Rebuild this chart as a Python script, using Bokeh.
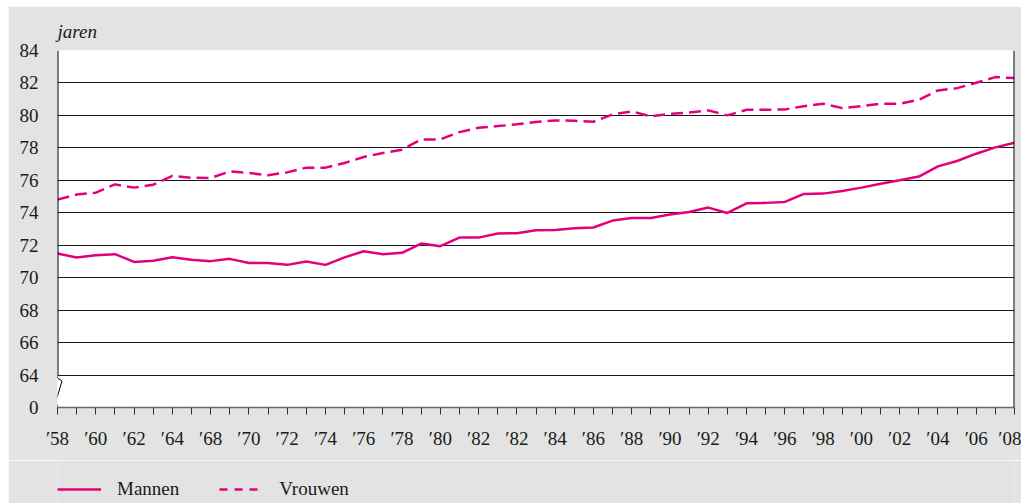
from bokeh.plotting import figure
from bokeh.models import FixedTicker, Grid, Arrow, Legend, LegendItem, Spacer
from bokeh.layouts import column, row
from bokeh.embed import file_html
from bokeh.resources import INLINE

# ---------------- data ----------------
years = list(range(1958, 2009))
mannen = [71.49, 71.24, 71.38, 71.45, 70.97, 71.04, 71.26, 71.10, 71.02, 71.16,
          70.91, 70.91, 70.79, 71.00, 70.79, 71.25, 71.63, 71.45, 71.53, 72.10,
          71.94, 72.47, 72.47, 72.72, 72.74, 72.92, 72.94, 73.05, 73.09, 73.52,
          73.68, 73.68, 73.89, 74.05, 74.32, 73.99, 74.58, 74.61, 74.67, 75.16,
          75.18, 75.34, 75.55, 75.79, 76.00, 76.23, 76.86, 77.19, 77.64, 78.03,
          78.32]
vrouwen = [74.81, 75.12, 75.24, 75.75, 75.55, 75.73, 76.27, 76.16, 76.14, 76.55,
           76.45, 76.31, 76.49, 76.78, 76.78, 77.07, 77.44, 77.68, 77.89, 78.52,
           78.52, 78.97, 79.24, 79.34, 79.45, 79.59, 79.69, 79.67, 79.61, 80.06,
           80.25, 79.94, 80.09, 80.18, 80.31, 80.00, 80.35, 80.35, 80.37, 80.57,
           80.72, 80.45, 80.57, 80.72, 80.72, 80.96, 81.54, 81.68, 82.01, 82.36,
           82.30]
x_tick_labels = ["\u203258", "\u203260", "\u203262", "\u203264", "\u203268", "\u203270",
                 "\u203272", "\u203274", "\u203276", "\u203278", "\u203280", "\u203282",
                 "\u203282", "\u203284", "\u203286", "\u203288", "\u203290", "\u203292",
                 "\u203294", "\u203296", "\u203298", "\u203200", "\u203202", "\u203204",
                 "\u203206", "\u203208"]
y_ticks = [62, 64, 66, 68, 70, 72, 74, 76, 78, 80, 82, 84]
y_tick_labels = ["0", "64", "66", "68", "70", "72", "74", "76", "78", "80", "82", "84"]
series_names = ["Mannen", "Vrouwen"]
y_unit = "jaren"

# ---------------- layout ----------------
PAD_L, PAD_T = 8, 6
W = 1021 - PAD_L
H1 = 454
H2 = 503 - PAD_T - H1
BL, BR, BT, BB = 49, 7, 44, 53
FW = W - BL - BR
FH = H1 - BT - BB
X0, X1 = years[0], years[-1]
Y0, Y1 = y_ticks[0], y_ticks[-1]
PXY = FW / (X1 - X0)      # pixels per year
PYU = FH / (Y1 - Y0)      # pixels per unit

def dx(px):
    return px / PXY

def dy(px):
    return px / PYU

FONT = "Liberation Serif"
FS = "19px"
MAGENTA = "#e4007c"
TXT = "#1a1a1a"
GREY = "#e2e3e2"

p = figure(width=W, height=H1, output_backend="svg", toolbar_location=None,
           x_range=(X0, X1), y_range=(Y0, Y1),
           min_border_left=BL, min_border_right=BR,
           min_border_top=BT, min_border_bottom=BB)
p.border_fill_color = GREY
p.background_fill_color = "white"
p.outline_line_color = None

# unit label as title
p.title.text = y_unit
p.title.text_font = FONT
p.title.text_font_size = FS
p.title.text_font_style = "italic"
p.title.text_color = TXT
p.title.align = "left"
p.title.standoff = 18

# grid
p.xgrid.visible = False
p.ygrid.ticker = FixedTicker(ticks=y_ticks[1:-1])
p.ygrid.grid_line_color = "#1a1a1a"
p.ygrid.grid_line_width = 1
top_grid = Grid(dimension=1, ticker=FixedTicker(ticks=[Y1]),
                grid_line_color="#7a7a7a", grid_line_width=2)
p.add_layout(top_grid)

# y axis
p.yaxis.ticker = FixedTicker(ticks=y_ticks)
p.yaxis.major_label_overrides = {t: l for t, l in zip(y_ticks, y_tick_labels)}
p.yaxis.axis_line_color = None
p.yaxis.major_tick_line_color = None
p.yaxis.minor_tick_line_color = None
p.yaxis.major_label_standoff = 13
p.yaxis.major_label_text_font = FONT
p.yaxis.major_label_text_font_size = FS
p.yaxis.major_label_text_color = TXT

# x axis
p.xaxis.ticker = FixedTicker(ticks=years)
even_years = years[::2]
overrides = {y: "" for y in years}
overrides.update({y: l for y, l in zip(even_years, x_tick_labels)})
p.xaxis.major_label_overrides = overrides
p.xaxis.axis_line_color = "#6b6b6b"
p.xaxis.axis_line_width = 1.5
p.xaxis.major_tick_line_color = "#333333"
p.xaxis.major_tick_out = 7
p.xaxis.major_tick_in = 0
p.xaxis.minor_tick_line_color = None
p.xaxis.major_label_standoff = 13
p.xaxis.major_label_text_font = FONT
p.xaxis.major_label_text_font_size = FS
p.xaxis.major_label_text_color = TXT

# series
r_m = p.line(years, mannen, line_color=MAGENTA, line_width=2.5)
r_v = p.line(years, vrouwen, line_color=MAGENTA, line_width=2.5, line_dash="12 6")

# left axis line with break, right border
def seg(xa, ya, xb, yb, color="black", width=1.0):
    p.add_layout(Arrow(start=None, end=None, x_start=xa, y_start=ya, x_end=xb, y_end=yb,
                       line_color=color, line_width=width))

seg(X0, Y1, X0, Y0 + 2, width=2)
seg(X0, Y0 + 2, X0, Y0 + 2 - dy(3))
seg(X0, Y0 + 2 - dy(3), X0 + dx(4.5), Y0 + 2 - dy(6))
seg(X0 + dx(4.5), Y0 + 2 - dy(6), X0 - dx(2), Y0 + dy(5))
seg(X0 - dx(2), Y0 + dy(5), X0, Y0, width=2)
seg(X1, Y1, X1, Y0, width=2)

# legend strip (its frame aligns with the chart's frame); the series are drawn
# there outside its visible range so that only their legend swatches show
q = figure(width=W, height=H2, output_backend="svg", toolbar_location=None,
           x_axis_location=None, y_axis_location=None,
           min_border_left=BL, min_border_right=BR, min_border_top=0, min_border_bottom=0,
           x_range=(0, 1), y_range=(0, 1))
q.border_fill_color = GREY
q.background_fill_color = GREY
q.outline_line_color = None
q.grid.visible = False
lm = q.line(years, mannen, line_color=MAGENTA, line_width=2.5)
lv = q.line(years, vrouwen, line_color=MAGENTA, line_width=2.5, line_dash="8 7")
legend = Legend(items=[LegendItem(label=series_names[0], renderers=[lm]),
                       LegendItem(label=series_names[1], renderers=[lv])],
                orientation="horizontal", location=(0, 3),
                padding=0, margin=0, spacing=40,
                glyph_width=44, glyph_height=16, label_height=16,
                label_standoff=16,
                label_text_font=FONT, label_text_font_size=FS,
                label_text_color=TXT, label_text_baseline="alphabetic",
                border_line_color=None, background_fill_alpha=0)
q.add_layout(legend)

layout = column(Spacer(height=PAD_T, width=1021),
                row(Spacer(width=PAD_L, height=H1 + H2), column(p, q, spacing=0), spacing=0),
                spacing=0)
open("out.html", "w").write(file_html(layout, INLINE))
